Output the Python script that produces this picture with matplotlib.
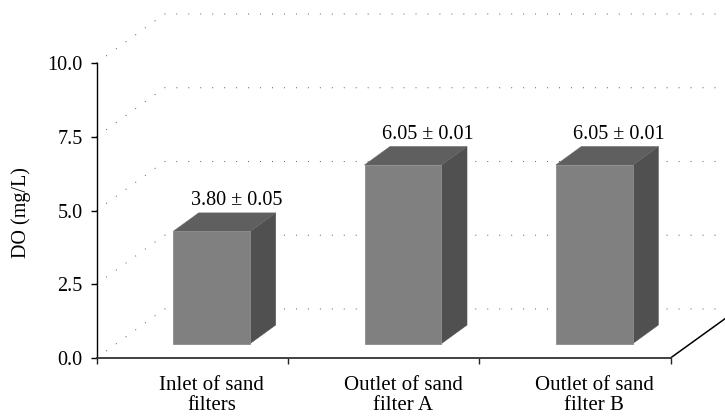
import matplotlib
matplotlib.use("Agg")
import matplotlib.pyplot as plt
from matplotlib.patches import Polygon

categories = ["Inlet of sand\nfilters", "Outlet of sand\nfilter A", "Outlet of sand\nfilter B"]
values = [3.80, 6.05, 6.05]
value_labels = ["3.80 ± 0.05", "6.05 ± 0.01", "6.05 ± 0.01"]
y_ticks = [0.0, 2.5, 5.0, 7.5, 10.0]

W, H = 725, 416
plt.rcParams["font.family"] = ["Liberation Serif", "DejaVu Serif"]
fig = plt.figure(figsize=(W / 100, H / 100), dpi=100)
L, R, T, B = 96.5, 670.5, 63, 358
ax = fig.add_axes([L / W, 1 - B / H, (R - L) / W, (B - T) / H])
ax.set_xlim(0, 3)
ax.set_ylim(0, 10)

ux = (R - L) / 3
uy = (B - T) / 10
# oblique depth in data units per pixel
def px(dx, dy):
    return dx / ux, -dy / uy

back_dx, back_dy = px(68, -49)
dot = (0, (1, 11.3))
for v in y_ticks:
    ax.plot([0, back_dx, 3 + back_dx], [v, v + back_dy, v + back_dy],
            color="#555555", lw=0.7, ls=dot, clip_on=False, zorder=1)

# floor edge, right side
ax.plot([3, 3 + back_dx], [0, back_dy], color="black", lw=1.1, clip_on=False, zorder=2)

fd_x, fd_y = px(19.5, -14.5)   # front face offset from axis plane
d_x, d_y = px(25.5, -18.5)     # bar depth
half = 38.5 / ux
for i, (v, lab) in enumerate(zip(values, value_labels)):
    c = i + 0.5 + fd_x
    x0, x1 = c - half, c + half
    y0, y1 = fd_y, v + fd_y
    ax.add_patch(Polygon([(x1, y0), (x1 + d_x, y0 + d_y), (x1 + d_x, y1 + d_y), (x1, y1)],
                         fc="#505050", ec="#505050", lw=0.4, clip_on=False, zorder=3))
    ax.add_patch(Polygon([(x0, y1), (x0 + d_x, y1 + d_y), (x1 + d_x, y1 + d_y), (x1, y1)],
                         fc="#5f5f5f", ec="#6a6a6a", lw=0.4, clip_on=False, zorder=3))
    ax.add_patch(Polygon([(x0, y0), (x1, y0), (x1, y1), (x0, y1)],
                         fc="#808080", ec="#8c8c8c", lw=0.6, clip_on=False, zorder=4))
    ax.annotate(lab, (c + d_x / 2 + 12 / ux, y1 + d_y), xytext=(0, 3), textcoords="offset pixels",
                ha="center", va="bottom", fontsize=14.5, color="black", zorder=5)
    ax.annotate(categories[i], (c, 0), xytext=(0, -18), textcoords="offset pixels",
                ha="center", va="top", fontsize=15, linespacing=1.1, color="black",
                annotation_clip=False)

for s in ("top", "right"):
    ax.spines[s].set_visible(False)
ax.spines["left"].set_linewidth(1.0)
ax.spines["bottom"].set_linewidth(1.3)
ax.spines["bottom"].set_color("#333333")
ax.set_yticks(y_ticks, [f"{v:.1f}" for v in y_ticks])
ax.set_xticks([0, 1, 2, 3])
ax.set_xticklabels([])
ax.tick_params(axis="x", which="major", length=4, width=1.0, color="#222222")
ax.tick_params(axis="y", length=4, width=1.0, pad=6, labelsize=14.5)
ax.set_ylabel("DO (mg/L)", fontsize=14.5)
ax.yaxis.set_label_coords((31 - L) / (R - L), (B - 213) / (B - T))
fig.savefig("out.png", dpi=100)
